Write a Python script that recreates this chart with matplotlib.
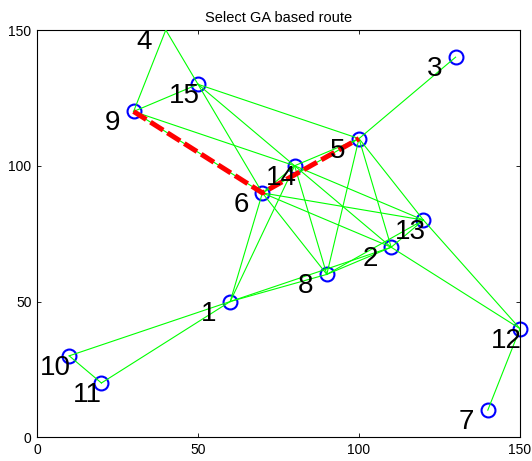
import matplotlib
matplotlib.use("Agg")
import matplotlib.pyplot as plt

plt.rcParams['font.family'] = ['Liberation Sans', 'DejaVu Sans']

# Node coordinates (node k is at index k-1)
node_ids = list(range(1, 16))
node_x = [60, 110, 130, 40, 100, 70, 140, 90, 30, 10, 20, 150, 120, 80, 50]
node_y = [50, 70, 140, 150, 110, 90, 10, 60, 120, 30, 20, 40, 80, 100, 130]

# Links between nodes
edges = [(1, 2), (1, 6), (1, 8), (1, 10), (1, 11), (1, 14),
         (2, 5), (2, 6), (2, 8), (2, 12), (2, 13), (2, 14),
         (3, 5), (4, 9), (4, 15),
         (5, 6), (5, 8), (5, 13), (5, 14), (5, 15),
         (6, 8), (6, 9), (6, 13), (6, 14), (6, 15),
         (7, 12), (8, 13), (8, 14), (9, 14), (9, 15),
         (10, 11), (12, 13), (13, 14), (14, 15)]

# Selected route
route = [9, 6, 5]

title_text = "Select GA based route"
x_ticks = [0, 50, 100, 150]
y_ticks = [0, 50, 100, 150]
x_lim = (0, 150)
y_lim = (0, 150)

W, H = 532, 461
fig = plt.figure(figsize=(W / 100, H / 100), dpi=100)
ax = fig.add_axes([37 / W, (H - 437.3) / H, 483 / W, 407.3 / H])

# node markers (points lying on the upper limit are not drawn, like the
# vertex clipping of the original plotting tool)
mx = [x for x, y in zip(node_x, node_y) if y < y_lim[1]]
my = [y for x, y in zip(node_x, node_y) if y < y_lim[1]]
ax.plot(mx, my, 'o', mfc='none', mec=(0, 0, 1), ms=10, mew=1.5,
        clip_on=False, zorder=2, linestyle='none')

# links
for a, b in edges:
    ax.plot([node_x[a - 1], node_x[b - 1]], [node_y[a - 1], node_y[b - 1]],
            color=(0, 1, 0), lw=0.8, zorder=3)

# route
rx = [node_x[k - 1] for k in route]
ry = [node_y[k - 1] for k in route]
ax.plot(rx, ry, color=(1, 0, 0), lw=3.6, dashes=(3, 1), zorder=4)

# node numbers
for k, x, y in zip(node_ids, node_x, node_y):
    ax.annotate(str(k), (x, y), xytext=(-29, -19), textcoords='offset pixels',
                fontsize=20, ha='left', va='baseline', annotation_clip=False,
                zorder=5)

ax.set_xlim(*x_lim)
ax.set_ylim(*y_lim)
ax.set_xticks(x_ticks)
ax.set_yticks(y_ticks)
ax.tick_params(direction='in', length=3, width=0.6, top=True, right=True,
               labelsize=10, pad=4)
for s in ax.spines.values():
    s.set_linewidth(0.8)
ax.set_title(title_text, fontsize=10.5, pad=6)

fig.savefig('out.png', dpi=100)
